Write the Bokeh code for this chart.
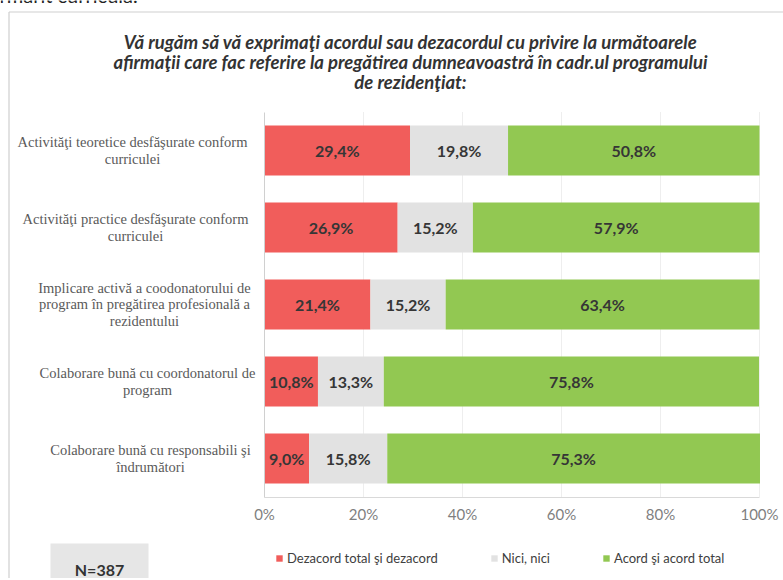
from bokeh.plotting import figure
from bokeh.models import (Legend, LegendItem, ColumnDataSource, BoxAnnotation,
                          PrintfTickFormatter, LinearAxis, FixedTicker, Range1d)
from bokeh.embed import file_html
from bokeh.resources import INLINE
from bokeh.core.properties import value

# ---------------- data ----------------
categories = [
    "Activităţi teoretice desfăşurate conform\ncurriculei",
    "Activităţi practice desfăşurate conform\ncurriculei",
    "Implicare activă a coodonatorului de\nprogram în pregătirea profesională a\nrezidentului",
    "Colaborare bună cu coordonatorul de\nprogram",
    "Colaborare bună cu responsabili şi\nîndrumători",
]
dezacord = [29.4, 26.9, 21.4, 10.8, 9.0]
nici = [19.8, 15.2, 15.2, 13.3, 15.8]
acord = [50.8, 57.9, 63.4, 75.8, 75.3]
series_names = ["Dezacord total şi dezacord", "Nici, nici", "Acord şi acord total"]
x_ticks = [0, 20, 40, 60, 80, 100]
title_text = ("Vă rugăm să vă exprimaţi acordul sau dezacordul cu privire la următoarele\n"
              "afirmaţii care fac referire la pregătirea dumneavoastră în cadr.ul programului\n"
              "de rezidenţiat:")
sample_note = "N=387"
page_text = "rmărit curricula."

# ---------------- layout / style ----------------
colors = ["#f15d5b", "#e2e2e2", "#92c852"]
SANS = "Lato"
SERIF = "Liberation Serif"

W, H = 783, 578
PL, PR = 264, 759              # page x of 0% and 100%
PT, PB = 111.5, 496.5          # page y of top/bottom of bar area
n = len(categories)
ppx = (PR - PL) / 100.0
ppy = (PB - PT) / n


def X(px):
    return (px - PL) / ppx


def Y(py):
    return (n - 0.5) - (py - PT) / ppy


p = figure(width=W, height=H,
           x_range=Range1d(X(0), X(W)), y_range=Range1d(Y(H), Y(0)),
           x_axis_location=None, y_axis_location=None,
           output_backend="svg", toolbar_location=None, title=None, min_border=0)
p.outline_line_color = None
p.background_fill_color = "white"
p.grid.visible = False

# chart box border (top and left edges)
p.segment(x0=[X(8.5), X(8.5)], x1=[X(W + 5), X(8.5)], y0=[Y(11.5), Y(11.5)],
          y1=[Y(11.5), Y(H + 5)], line_color="#cfcfcf", line_width=1.2)

# cut-off line of the surrounding document (only its lower part shows)
p.text(x=[X(-1)], y=[Y(-6)], text=[page_text], text_align="left", text_baseline="alphabetic",
       text_font=value(SANS), text_font_size="20px", text_color="#222222")

ypos = [n - 1 - i for i in range(n)]

# light vertical gridlines
p.segment(x0=x_ticks[1:], x1=x_ticks[1:], y0=-0.5, y1=n - 0.5, line_color="#eeeeee", line_width=1)

source = ColumnDataSource(dict(y=ypos, dez=dezacord, nici=nici, acord=acord))
rends = p.hbar_stack(["dez", "nici", "acord"], y="y", height=0.65, color=colors,
                     line_color=None, source=source)

# value labels
tx, ty, tt = [], [], []
for i in range(n):
    start = 0.0
    for vals in (dezacord, nici, acord):
        v = vals[i]
        tx.append(start + v / 2.0)
        ty.append(ypos[i])
        tt.append(f"{v:.1f}".replace(".", ",") + "%")
        start += v
p.text(x="x", y="y", text="t", source=ColumnDataSource(dict(x=tx, y=ty, t=tt)),
       text_align="center", text_baseline="middle", text_font=value(SANS),
       text_font_style="bold", text_font_size="16px", text_color="#363636")

# axes (placed at the edges of the bar area)
xaxis = LinearAxis(fixed_location=-0.5, bounds=(0, 100), ticker=FixedTicker(ticks=x_ticks),
                   formatter=PrintfTickFormatter(format="%d%%"))
xaxis.axis_line_color = "#d9d9d9"
xaxis.major_tick_line_color = None
xaxis.minor_tick_line_color = None
xaxis.major_label_text_font = SANS
xaxis.major_label_text_font_size = "15px"
xaxis.major_label_text_color = "#7f7f7f"
xaxis.major_label_standoff = 2
p.add_layout(xaxis, "below")

yaxis = LinearAxis(fixed_location=0, bounds=(-0.5, n - 0.5), ticker=FixedTicker(ticks=[]))
yaxis.axis_line_color = "#d0d0d0"
yaxis.major_tick_line_color = None
yaxis.minor_tick_line_color = None
p.add_layout(yaxis, "left")

# category labels (lines centered, block right-aligned next to the axis)
cx = [X(252 - 3.0 * max(len(s) for s in c.split("\n"))) for c in categories]
p.text(x=cx, y=ypos, text=categories, text_align="center", text_baseline="middle",
       text_font=value(SERIF), text_font_size="14.5px", text_color="#5a5a5a",
       text_line_height=1.02)

# title
p.text(x=[X(410)], y=[Y(61.5)], text=[title_text], text_align="center", text_baseline="middle",
       text_font=value(SANS), text_font_style="bold italic", text_font_size="18.5px",
       text_color="#333333", text_line_height=0.93)

# N box
p.add_layout(BoxAnnotation(left=X(50), right=X(148), top=Y(543), bottom=Y(600),
                           fill_color="#e6e6e6", fill_alpha=1.0, line_color=None,
                           level="underlay"))
p.text(x=[X(99)], y=[Y(569)], text=[sample_note], text_align="center", text_baseline="middle",
       text_font=value(SANS), text_font_style="bold", text_font_size="16px",
       text_color="#333333")

# legend
legend = Legend(items=[LegendItem(label=nm, renderers=[r]) for nm, r in zip(series_names, rends)],
                orientation="horizontal", location=(275, H - 565.5),
                glyph_width=8, glyph_height=8, label_standoff=4, spacing=52, padding=0,
                margin=0, label_height=14, border_line_color=None, background_fill_alpha=0,
                label_text_font=SANS, label_text_font_size="13px", label_text_color="#404040")
p.add_layout(legend, "center")

open("out.html", "w").write(file_html(p, INLINE))
